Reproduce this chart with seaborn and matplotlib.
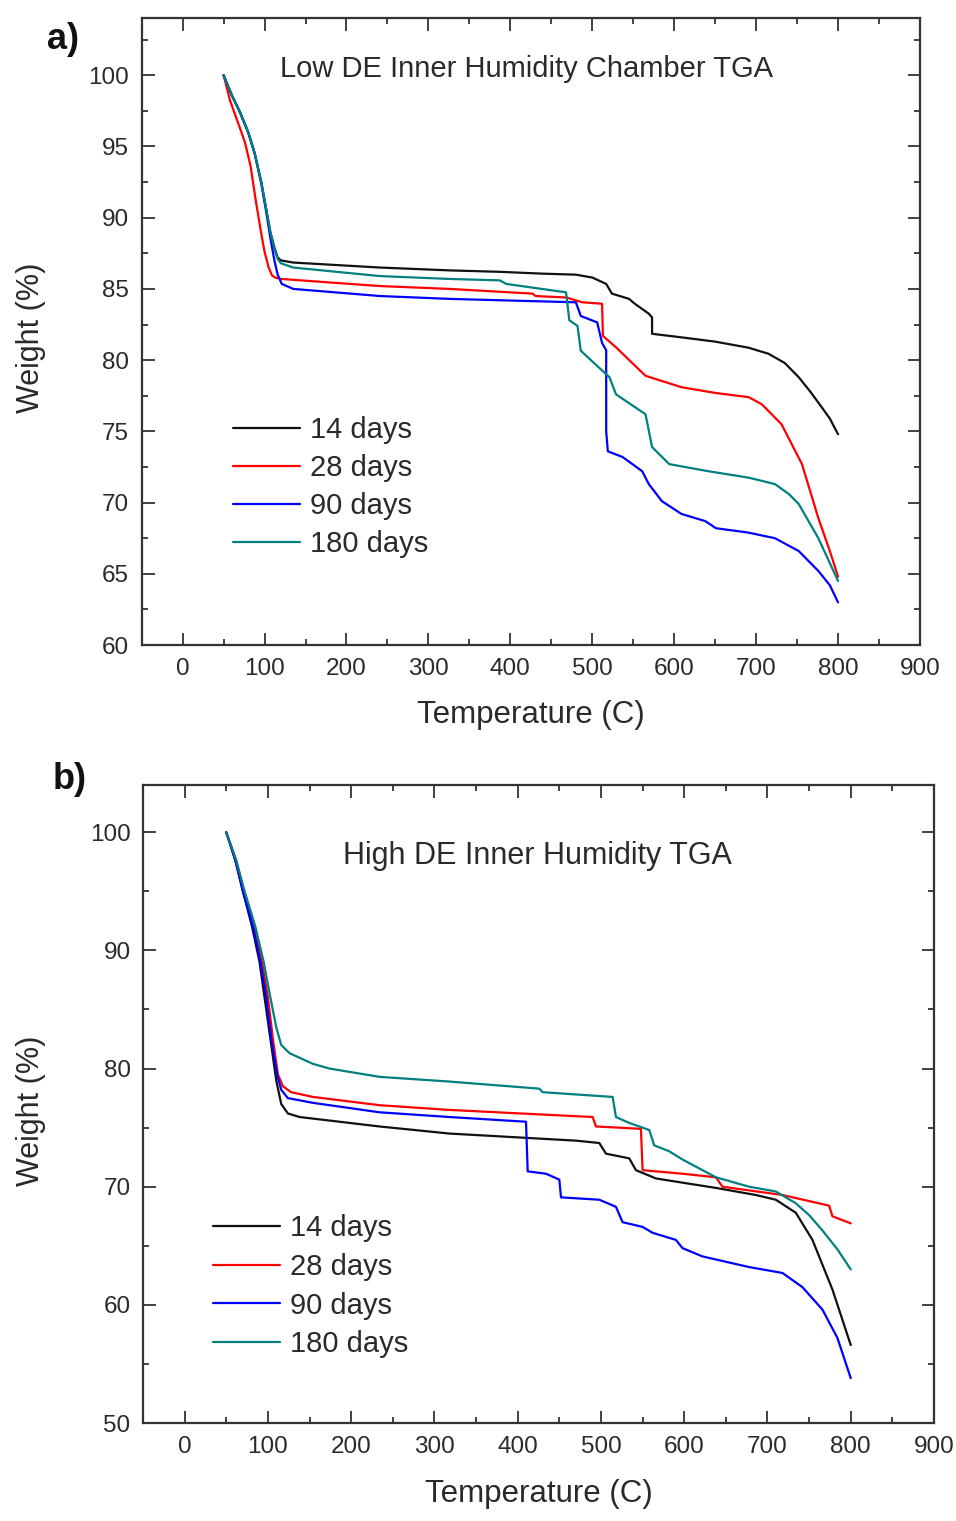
import numpy as np
import pandas as pd
import matplotlib
matplotlib.use("Agg")
import matplotlib.pyplot as plt
from matplotlib.ticker import MultipleLocator
import seaborn as sns

sns.set_style("ticks")
plt.rcParams['font.family'] = ['Liberation Sans', 'DejaVu Sans']

series_names = ["14 days", "28 days", "90 days", "180 days"]
colors = ["#111111", "#ff0000", "#0000ff", "#008080"]

# ---------------- Panel a: Low DE Inner Humidity Chamber TGA ----------------
a14_t = [50, 60, 70, 80, 88, 96, 102, 107, 112, 116, 120, 135, 241, 326, 387, 440, 480, 500, 517, 524, 545, 551, 569, 573, 573, 609, 650, 691, 715, 735, 752, 766, 780, 790, 800]
a14_w = [100, 98.6, 97.4, 96.0, 94.5, 92.5, 90.6, 89.0, 87.9, 87.2, 87.0, 86.85, 86.5, 86.3, 86.2, 86.07, 86.0, 85.8, 85.35, 84.67, 84.3, 84.0, 83.26, 83.0, 81.85, 81.6, 81.3, 80.87, 80.45, 79.8, 78.8, 77.8, 76.7, 75.9, 74.8]

a28_t = [50, 58, 68, 76, 83, 89, 95, 100, 105, 109, 113, 120, 241, 326, 427, 431, 468, 488, 512, 513, 529, 565, 609, 650, 691, 707, 731, 756, 776, 790, 800]
a28_w = [100, 98.2, 96.6, 95.3, 93.6, 91.3, 89.2, 87.6, 86.5, 85.95, 85.8, 85.7, 85.2, 85.0, 84.67, 84.5, 84.4, 84.06, 83.96, 81.7, 80.9, 78.9, 78.1, 77.7, 77.4, 76.9, 75.5, 72.7, 68.9, 66.6, 64.8]

a90_t = [50, 60, 70, 80, 88, 96, 102, 107, 112, 116, 121, 135, 241, 326, 480, 486, 506, 512, 517, 517, 519, 537, 561, 569, 585, 609, 638, 651, 690, 723, 752, 776, 790, 800]
a90_w = [100, 98.6, 97.4, 96.0, 94.5, 92.4, 90.4, 88.6, 87.0, 86.0, 85.35, 85.0, 84.5, 84.3, 84.06, 83.1, 82.65, 81.2, 80.7, 75.0, 73.6, 73.2, 72.2, 71.3, 70.1, 69.2, 68.7, 68.2, 67.9, 67.5, 66.6, 65.2, 64.2, 63.0]

a180_t = [50, 60, 70, 80, 88, 96, 102, 107, 112, 116, 120, 135, 241, 326, 387, 395, 468, 472, 482, 486, 504, 521, 529, 565, 573, 594, 642, 691, 723, 740, 752, 776, 800]
a180_w = [100, 98.6, 97.4, 96.0, 94.5, 92.5, 90.6, 89.0, 87.8, 87.1, 86.8, 86.5, 85.9, 85.7, 85.6, 85.35, 84.76, 82.8, 82.4, 80.66, 79.7, 78.8, 77.6, 76.2, 73.9, 72.7, 72.2, 71.75, 71.3, 70.6, 69.9, 67.5, 64.5]

# ---------------- Panel b: High DE Inner Humidity TGA ----------------
b14_t = [50, 61, 70, 81, 90, 96, 103, 110, 116, 124, 138, 234, 318, 470, 498, 506, 534, 542, 566, 638, 686, 710, 734, 754, 778, 800]
b14_w = [100, 97.6, 95.0, 92.0, 89.0, 86.0, 82.5, 79.0, 77.0, 76.2, 75.9, 75.1, 74.5, 73.9, 73.7, 72.8, 72.4, 71.4, 70.7, 69.9, 69.3, 68.9, 67.8, 65.5, 61.3, 56.6]

b28_t = [50, 62, 71, 83, 93, 100, 106, 112, 118, 128, 154, 234, 318, 490, 494, 548, 550, 598, 638, 646, 718, 774, 778, 800]
b28_w = [100, 97.6, 95.0, 92.0, 89.0, 86.0, 82.5, 79.5, 78.5, 78.0, 77.6, 76.9, 76.5, 75.9, 75.1, 74.9, 71.4, 71.1, 70.8, 70.0, 69.3, 68.4, 67.5, 66.9]

b90_t = [50, 61, 70, 82, 91, 98, 104, 111, 116, 124, 154, 234, 318, 410, 412, 434, 450, 452, 498, 518, 526, 550, 562, 590, 598, 622, 678, 718, 742, 766, 784, 800]
b90_w = [100, 97.6, 95.0, 92.0, 89.0, 86.0, 82.5, 79.5, 78.2, 77.5, 77.1, 76.3, 75.9, 75.5, 71.3, 71.1, 70.6, 69.1, 68.9, 68.3, 67.0, 66.6, 66.1, 65.5, 64.8, 64.1, 63.2, 62.7, 61.5, 59.6, 57.2, 53.8]

b180_t = [50, 62, 72, 85, 95, 103, 110, 116, 126, 154, 174, 234, 318, 426, 430, 514, 518, 534, 558, 564, 582, 598, 614, 638, 678, 710, 734, 750, 766, 784, 800]
b180_w = [100, 97.6, 95.0, 92.0, 89.0, 86.0, 83.5, 82.0, 81.3, 80.4, 80.0, 79.3, 78.9, 78.3, 78.0, 77.6, 75.9, 75.4, 74.8, 73.5, 73.0, 72.3, 71.7, 70.8, 70.0, 69.6, 68.6, 67.6, 66.3, 64.7, 63.0]


def make_df(ts, ws):
    frames = []
    for name, t, w in zip(series_names, ts, ws):
        frames.append(pd.DataFrame({"temp": t, "weight": w, "series": name}))
    return pd.concat(frames, ignore_index=True)


df_a = make_df([a14_t, a28_t, a90_t, a180_t], [a14_w, a28_w, a90_w, a180_w])
df_b = make_df([b14_t, b28_t, b90_t, b180_t], [b14_w, b28_w, b90_w, b180_w])

fig = plt.figure(figsize=(9.56, 15.21), dpi=100)
ax_a = fig.add_axes([0.1482, 0.5759, 0.8141, 0.4121])
ax_b = fig.add_axes([0.1496, 0.0644, 0.8274, 0.4195])

txt_color = "#2a2a2a"
palette = dict(zip(series_names, colors))


def style(ax, df, ylim, ymaj, ymin, title, tsize, tx, ty, leg_anchor, lspace):
    sns.lineplot(ax=ax, data=df, x="temp", y="weight", hue="series",
                 palette=palette, estimator=None, sort=False, linewidth=1.6,
                 hue_order=series_names)
    ax.set_xlim(-50, 900)
    ax.set_ylim(*ylim)
    ax.xaxis.set_minor_locator(MultipleLocator(50))
    ax.yaxis.set_major_locator(MultipleLocator(ymaj))
    ax.yaxis.set_minor_locator(MultipleLocator(ymin))
    ax.set_xticks(np.arange(0, 901, 100))
    ax.tick_params(which="both", direction="in", top=True, right=True,
                   color="#333333", width=1.3)
    ax.tick_params(which="major", length=9, labelsize=17.5, pad=9,
                   labelcolor=txt_color)
    ax.tick_params(which="minor", length=4.5)
    for s in ax.spines.values():
        s.set_linewidth(1.6)
        s.set_color("#333333")
        s.set_visible(True)
    ax.set_xlabel("Temperature (C)", fontsize=22.5, color=txt_color)
    ax.set_ylabel("Weight (%)", fontsize=22, color=txt_color)
    ax.xaxis.set_label_coords(0.5, -0.088)
    ax.yaxis.set_label_coords(-0.123, 0.49)
    ax.text(tx, ty, title, transform=ax.transAxes, ha="center", va="center",
            fontsize=tsize, color=txt_color)
    handles, labels = ax.get_legend_handles_labels()
    ax.legend(handles, labels, loc="upper left", bbox_to_anchor=leg_anchor,
              frameon=False, fontsize=21, handlelength=2.3,
              handletextpad=0.34, labelspacing=lspace, borderpad=0,
              borderaxespad=0, labelcolor=txt_color)


style(ax_a, df_a, (60, 104), 5, 2.5, "Low DE Inner Humidity Chamber TGA", 21,
      0.495, 0.919, (0.117, 0.365), 0.34)
style(ax_b, df_b, (50, 104), 10, 5, "High DE Inner Humidity TGA", 22,
      0.499, 0.889, (0.088, 0.327), 0.365)

fig.text(0.066, 0.974, "a)", fontsize=26, fontweight="bold", ha="center",
         va="center", color="#111111")
fig.text(0.073, 0.4875, "b)", fontsize=26, fontweight="bold", ha="center",
         va="center", color="#111111")

fig.savefig("out.png", dpi=100)
